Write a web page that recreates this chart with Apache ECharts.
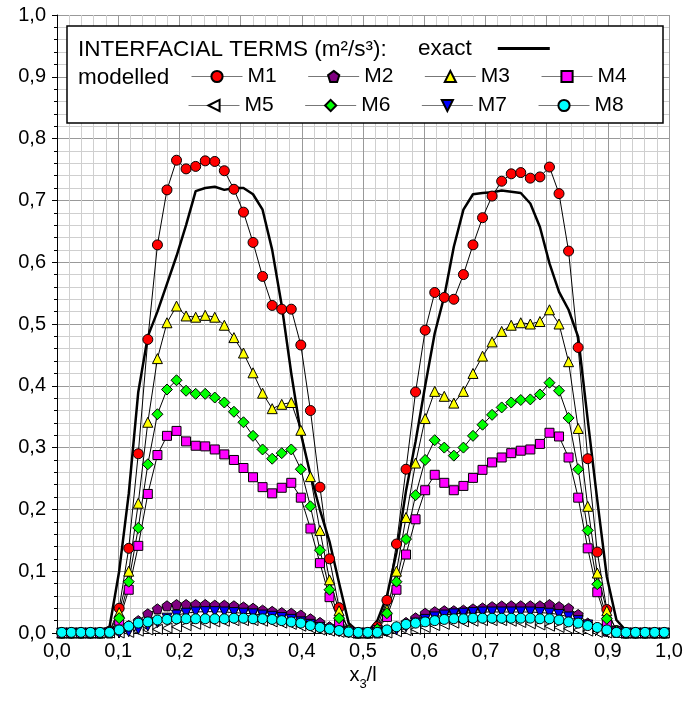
<!DOCTYPE html>
<html>
<head>
<meta charset="utf-8">
<script src="https://cdn.jsdelivr.net/npm/echarts@6/dist/echarts.min.js"></script>
<style>
  html, body { margin: 0; padding: 0; background: #fff; }
  #chart { width: 689px; height: 702px; }
</style>
</head>
<body>
<div id="chart"></div>
<script>
  // sample positions along x3/l (cell centres)
  const xPos = [0.0078, 0.0234, 0.0391, 0.0547, 0.0703, 0.0859, 0.1016, 0.1172, 0.1328, 0.1484, 0.1641, 0.1797, 0.1953, 0.2109, 0.2266, 0.2422,
    0.2578, 0.2734, 0.2891, 0.3047, 0.3203, 0.3359, 0.3516, 0.3672, 0.3828, 0.3984, 0.4141, 0.4297, 0.4453, 0.4609, 0.4766, 0.4922,
    0.5078, 0.5234, 0.5391, 0.5547, 0.5703, 0.5859, 0.6016, 0.6172, 0.6328, 0.6484, 0.6641, 0.6797, 0.6953, 0.7109, 0.7266, 0.7422,
    0.7578, 0.7734, 0.7891, 0.8047, 0.8203, 0.8359, 0.8516, 0.8672, 0.8828, 0.8984, 0.9141, 0.9297, 0.9453, 0.9609, 0.9766, 0.9922]

  const exact = [0, 0, 0, 0, 0, 0.01, 0.10, 0.225, 0.39, 0.48, 0.52, 0.565, 0.61, 0.66, 0.715, 0.72,
    0.722, 0.717, 0.72, 0.72, 0.71, 0.685, 0.62, 0.53, 0.42, 0.323, 0.256, 0.199, 0.148, 0.081, 0.016, 0.002,
    0.002, 0.02, 0.06, 0.13, 0.23, 0.31, 0.40, 0.485, 0.545, 0.625, 0.685, 0.71, 0.712, 0.713, 0.716, 0.714,
    0.712, 0.695, 0.657, 0.598, 0.552, 0.523, 0.479, 0.345, 0.215, 0.091, 0.021, 0.004, 0, 0, 0, 0]

  const m1 = [0, 0, 0, 0, 0, 0.003, 0.04, 0.137, 0.29, 0.475, 0.628, 0.717, 0.765, 0.751, 0.755, 0.764,
    0.763, 0.748, 0.718, 0.681, 0.632, 0.577, 0.530, 0.524, 0.524, 0.466, 0.36, 0.236, 0.12, 0.041, 0.005, 0,
    0, 0.01, 0.053, 0.144, 0.265, 0.39, 0.49, 0.551, 0.543, 0.540, 0.58, 0.628, 0.672, 0.707, 0.731, 0.743,
    0.745, 0.736, 0.738, 0.754, 0.711, 0.618, 0.462, 0.282, 0.131, 0.038, 0.004, 0, 0, 0, 0, 0]

  const m2 = [0, 0, 0, 0, 0, 0, 0.005, 0.012, 0.02, 0.031, 0.039, 0.044, 0.046, 0.046, 0.046, 0.046,
    0.045, 0.045, 0.044, 0.042, 0.040, 0.037, 0.035, 0.033, 0.032, 0.029, 0.023, 0.017, 0.01, 0.005, 0.002, 0,
    0, 0, 0.004, 0.01, 0.017, 0.0245, 0.032, 0.0345, 0.036, 0.036, 0.037, 0.039, 0.0405, 0.0426, 0.0437, 0.044,
    0.044, 0.044, 0.044, 0.046, 0.0426, 0.040, 0.030, 0.016, 0.008, 0.003, 0.001, 0, 0, 0, 0, 0]

  const m3 = [0, 0, 0, 0, 0, 0.002, 0.033, 0.10, 0.21, 0.341, 0.444, 0.502, 0.529, 0.513, 0.511, 0.514,
    0.511, 0.498, 0.478, 0.453, 0.421, 0.388, 0.363, 0.370, 0.373, 0.328, 0.253, 0.166, 0.086, 0.036, 0.005, 0,
    0, 0.008, 0.038, 0.10, 0.187, 0.275, 0.347, 0.391, 0.383, 0.372, 0.391, 0.42, 0.448, 0.471, 0.488, 0.498,
    0.502, 0.500, 0.504, 0.523, 0.500, 0.439, 0.331, 0.205, 0.097, 0.036, 0.004, 0, 0, 0, 0, 0]

  const m4 = [0, 0, 0, 0, 0, 0.001, 0.02, 0.07, 0.141, 0.225, 0.288, 0.319, 0.327, 0.310, 0.303, 0.302,
    0.297, 0.289, 0.28, 0.267, 0.252, 0.236, 0.226, 0.235, 0.243, 0.219, 0.169, 0.113, 0.058, 0.018, 0.003, 0,
    0, 0.005, 0.026, 0.07, 0.127, 0.184, 0.231, 0.256, 0.243, 0.231, 0.238, 0.251, 0.264, 0.276, 0.284, 0.291,
    0.295, 0.297, 0.306, 0.324, 0.318, 0.284, 0.219, 0.137, 0.066, 0.018, 0.003, 0, 0, 0, 0, 0]

  const m5 = [0, 0, 0, 0, 0, 0, 0, 0.001, 0.003, 0.005, 0.006, 0.008, 0.010, 0.012, 0.014, 0.016,
    0.018, 0.019, 0.020, 0.020, 0.020, 0.019, 0.018, 0.016, 0.014, 0.011, 0.008, 0.005, 0.003, 0.001, 0, 0,
    0, 0, 0, 0.002, 0.004, 0.006, 0.009, 0.012, 0.014, 0.016, 0.018, 0.019, 0.020, 0.020, 0.020, 0.019,
    0.017, 0.015, 0.013, 0.011, 0.009, 0.007, 0.005, 0.003, 0.001, 0, 0, 0, 0, 0, 0, 0]

  const m6 = [0, 0, 0, 0, 0, 0.001, 0.024, 0.083, 0.170, 0.273, 0.354, 0.394, 0.409, 0.392, 0.387, 0.387,
    0.381, 0.373, 0.358, 0.341, 0.319, 0.297, 0.282, 0.291, 0.297, 0.265, 0.205, 0.134, 0.070, 0.024, 0.004, 0,
    0, 0.006, 0.032, 0.083, 0.152, 0.223, 0.280, 0.312, 0.30, 0.287, 0.30, 0.319, 0.337, 0.353, 0.365, 0.373,
    0.377, 0.378, 0.386, 0.405, 0.392, 0.348, 0.265, 0.166, 0.079, 0.023, 0.003, 0, 0, 0, 0, 0]

  const m7 = [0, 0, 0, 0, 0, 0, 0, 0.002, 0.006, 0.011, 0.017, 0.024, 0.029, 0.032, 0.034, 0.0345,
    0.0345, 0.034, 0.033, 0.032, 0.031, 0.029, 0.027, 0.025, 0.022, 0.018, 0.014, 0.009, 0.005, 0.002, 0, 0,
    0, 0, 0.002, 0.005, 0.01, 0.016, 0.022, 0.026, 0.029, 0.031, 0.032, 0.033, 0.034, 0.034, 0.034, 0.034,
    0.034, 0.034, 0.033, 0.032, 0.03, 0.026, 0.02, 0.013, 0.006, 0.002, 0, 0, 0, 0, 0, 0]

  const m8 = [0.001, 0.001, 0.001, 0.001, 0.001, 0.001, 0.005, 0.011, 0.016, 0.018, 0.021, 0.022, 0.023, 0.023, 0.023, 0.023,
    0.023, 0.023, 0.024, 0.024, 0.023, 0.023, 0.022, 0.020, 0.018, 0.016, 0.012, 0.009, 0.0065, 0.004, 0.0016, 0.001,
    0.001, 0.001, 0.005, 0.01, 0.014, 0.016, 0.018, 0.02, 0.022, 0.023, 0.023, 0.024, 0.024, 0.024, 0.024, 0.024,
    0.024, 0.024, 0.023, 0.023, 0.021, 0.018, 0.016, 0.012, 0.009, 0.005, 0.001, 0.001, 0.001, 0.001, 0.001, 0.001]

  const pentagon = 'path://M0,-1 L0.951,-0.309 L0.588,0.809 L-0.588,0.809 L-0.951,-0.309 Z'
  const font = 'Liberation Sans, Arial, sans-serif'

  function pairs(ys) {
    return xPos.map((x, i) => [x, ys[i]])
  }

  function modelled(name, ys, symbol, color, size, rotate) {
    return {
      name: name,
      type: 'line',
      data: pairs(ys),
      symbol: symbol,
      symbolSize: size,
      symbolRotate: rotate || 0,
      showAllSymbol: true,
      lineStyle: { color: '#000', width: 1 },
      itemStyle: { color: color, borderColor: '#000', borderWidth: 1 },
      z: 3
    }
  }

  const fmt = v => v.toFixed(1).replace('.', ',')

  const chart = echarts.init(document.getElementById('chart'))
  chart.setOption({
    animation: false,
    textStyle: { fontFamily: font },
    grid: { left: 57, right: 20, top: 15, bottom: 69 },
    xAxis: {
      type: 'value',
      min: 0,
      max: 1,
      interval: 0.1,
      name: '{a|x}{b|3}{a|/l}',
      nameLocation: 'middle',
      nameGap: 28,
      nameTextStyle: {
        rich: {
          a: { fontSize: 20, fontFamily: font, color: '#000', lineHeight: 22 },
          b: { fontSize: 13, fontFamily: font, color: '#000', lineHeight: 13, verticalAlign: 'bottom', padding: [0, 0, -4, 0] }
        }
      },
      axisLine: { lineStyle: { color: '#000', width: 1 } },
      axisTick: { show: true, length: 5, lineStyle: { color: '#000' } },
      minorTick: { show: true, splitNumber: 5, length: 3, lineStyle: { color: '#000' } },
      axisLabel: { formatter: fmt, fontSize: 20, color: '#000', margin: 8 },
      splitLine: { show: true, lineStyle: { color: '#999', width: 1 } },
      minorSplitLine: { show: true, lineStyle: { color: '#cfcfcf', width: 1 } }
    },
    yAxis: {
      type: 'value',
      min: 0,
      max: 1,
      interval: 0.1,
      axisLine: { show: true, lineStyle: { color: '#000', width: 1 } },
      axisTick: { show: true, length: 5, lineStyle: { color: '#000' } },
      minorTick: { show: true, splitNumber: 5, length: 3, lineStyle: { color: '#000' } },
      axisLabel: { formatter: fmt, fontSize: 20, color: '#000', margin: 11 },
      splitLine: { show: true, lineStyle: { color: '#999', width: 1 } },
      minorSplitLine: { show: true, lineStyle: { color: '#cfcfcf', width: 1 } }
    },
    graphic: [
      {
        type: 'rect',
        z: 3,
        shape: { x: 67, y: 26, width: 596, height: 97 },
        style: { fill: '#fff', stroke: '#000', lineWidth: 1.5 }
      },
      {
        type: 'text',
        z: 4,
        left: 78,
        top: 38,
        style: { text: 'INTERFACIAL TERMS (m²/s³):', font: '22.5px ' + font, fill: '#000' }
      },
      {
        type: 'text',
        z: 4,
        left: 78,
        top: 66,
        style: { text: 'modelled', font: '22.5px ' + font, fill: '#000' }
      }
    ],
    legend: [
      {
        data: [{ name: 'exact', icon: 'rect' }],
        left: 418,
        top: 37,
        padding: 0,
        align: 'right',
        itemWidth: 52,
        itemHeight: 3,
        selectedMode: false,
        itemStyle: { color: '#000', borderWidth: 0 },
        textStyle: { fontSize: 22.5, color: '#000', padding: [0, 21, 0, 0] }
      },
      {
        data: ['M1', 'M2', 'M3', 'M4'],
        left: 191,
        top: 66,
        padding: 0,
        itemWidth: 51,
        itemHeight: 14,
        itemGap: 31,
        selectedMode: false,
        lineStyle: { color: '#777', width: 1 },
        textStyle: { fontSize: 21, color: '#000' }
      },
      {
        data: ['M5', 'M6', 'M7', 'M8'],
        left: 188,
        top: 95,
        padding: 0,
        itemWidth: 51,
        itemHeight: 14,
        itemGap: 31,
        selectedMode: false,
        lineStyle: { color: '#777', width: 1 },
        textStyle: { fontSize: 21, color: '#000' }
      }
    ],
    series: [
      {
        name: 'exact',
        type: 'line',
        data: pairs(exact),
        showSymbol: false,
        symbol: 'none',
        lineStyle: { color: '#000', width: 2.5 },
        itemStyle: { color: '#000' },
        z: 2
      },
      modelled('M1', m1, 'circle', '#ff0000', 10),
      modelled('M2', m2, pentagon, '#800080', 10),
      modelled('M3', m3, 'triangle', '#ffff00', 10),
      modelled('M4', m4, 'rect', '#ff00ff', 9),
      modelled('M5', m5, 'triangle', '#ffffff', 10, 90),
      modelled('M6', m6, 'diamond', '#00ff00', 11),
      modelled('M7', m7, 'triangle', '#0000ff', 10, 180),
      modelled('M8', m8, 'circle', '#00ffff', 10)
    ]
  })
</script>
</body>
</html>
